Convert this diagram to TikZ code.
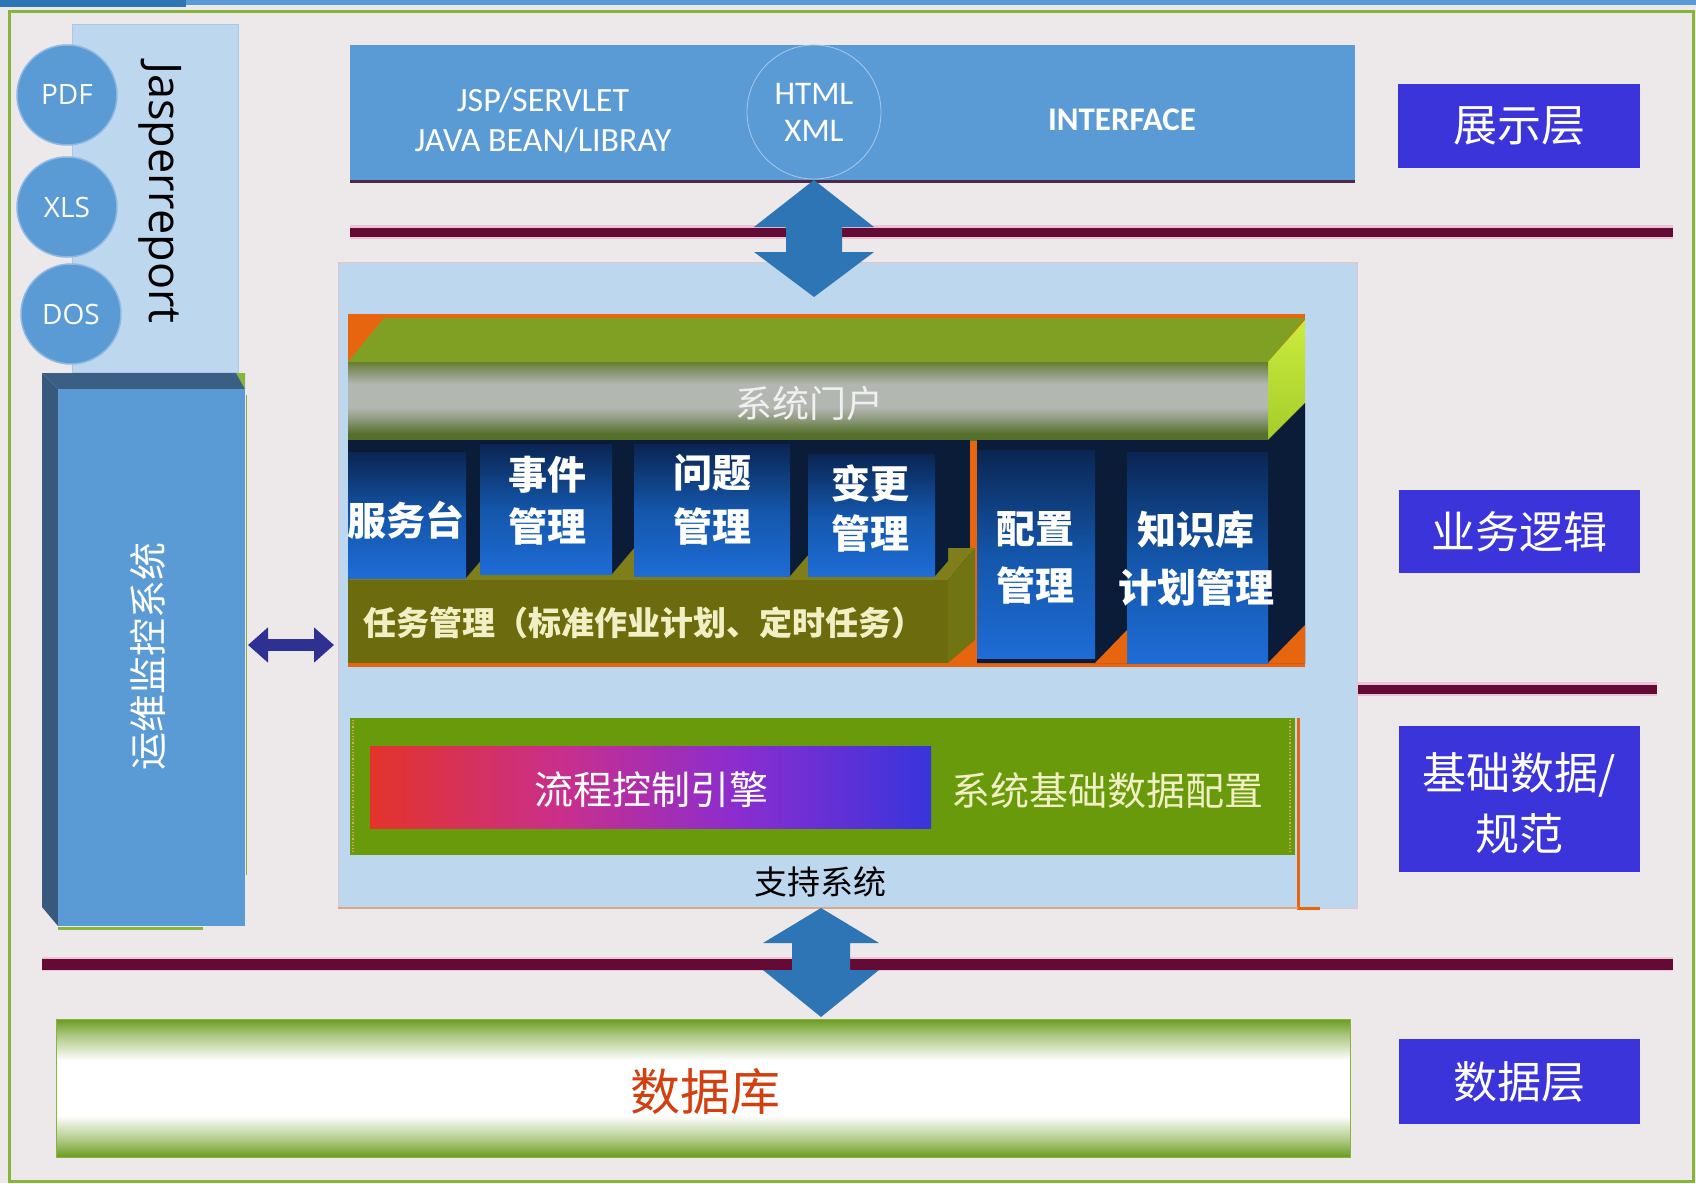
\documentclass[tikz,border=0pt]{standalone}
\usepackage{fontspec}
\setmainfont{Carlito}
\newfontfamily\cjk{Noto Sans CJK SC}
\newfontfamily\osans{Open Sans}
\usetikzlibrary{arrows.meta,calc}
\newcommand{\fsz}[2]{\fontsize{#1pt}{#2pt}\selectfont}
\definecolor{bgc}{HTML}{EDE8E9}
\definecolor{topdark}{HTML}{2E75B6}
\definecolor{toplight}{HTML}{5B9BD5}
\definecolor{framec}{HTML}{86B43C}
\definecolor{pale}{HTML}{BDD7EE}
\definecolor{midblue}{HTML}{5B9BD5}
\definecolor{circline}{HTML}{8DB8E2}
\definecolor{slate}{HTML}{3A5E84}
\definecolor{arrowblue}{HTML}{2E75B6}
\definecolor{arrowdark}{HTML}{2E3192}
\definecolor{maroon}{HTML}{650A35}
\definecolor{glow}{HTML}{E8C4D4}
\definecolor{labelblue}{HTML}{3A34DA}
\definecolor{orng}{HTML}{E8650F}
\definecolor{orngdot}{HTML}{E8A070}
\definecolor{olivetop}{HTML}{7FA022}
\definecolor{lime1}{HTML}{CBEC3E}
\definecolor{lime2}{HTML}{A4CC2A}
\definecolor{navy}{HTML}{0B1C38}
\definecolor{olivetop2}{HTML}{7E7E1A}
\definecolor{oliveside}{HTML}{707412}
\definecolor{olivefront}{HTML}{6C6C0E}
\definecolor{blkTop}{HTML}{0A2552}
\definecolor{blkMid}{HTML}{1456AA}
\definecolor{blkBot}{HTML}{1E6CD6}
\definecolor{grn}{HTML}{689A0C}
\definecolor{cream}{HTML}{F2EFC4}
\definecolor{portaltxt}{HTML}{F0F0F0}
\definecolor{dbg}{HTML}{6A9C1E}
\colorlet{dbl}{dbg!55!white}
\definecolor{dbred}{HTML}{D2400F}
\definecolor{shadowc}{HTML}{4A2A48}
\definecolor{htmlline}{HTML}{A9C8E8}
\definecolor{contline}{HTML}{E3C6C4}
\definecolor{botline}{HTML}{D8A888}
\definecolor{pA}{HTML}{55702A}
\definecolor{pB}{HTML}{8C9878}
\definecolor{pC}{HTML}{B3B7B2}
\definecolor{pD}{HTML}{6A7E30}
\definecolor{fA}{HTML}{E3332A}
\definecolor{fB}{HTML}{C92F8C}
\definecolor{fC}{HTML}{8A2DD0}
\definecolor{fD}{HTML}{3834DC}
\pgfdeclareverticalshading{portalshade}{100bp}{color(0bp)=(pA); color(25bp)=(pA); color(29bp)=(pA); color(38bp)=(pB); color(46bp)=(pC); color(61bp)=(pC); color(68bp)=(pB); color(75bp)=(pD); color(100bp)=(pD)}
\pgfdeclarehorizontalshading{flowshade}{100bp}{color(0bp)=(fA); color(25bp)=(fA); color(42bp)=(fB); color(58bp)=(fC); color(75bp)=(fD); color(100bp)=(fD)}
\pgfdeclareverticalshading{dbshade}{100bp}{color(0bp)=(dbg); color(25bp)=(dbg); color(31bp)=(dbl); color(40bp)=(white); color(60bp)=(white); color(69bp)=(dbl); color(75bp)=(dbg); color(100bp)=(dbg)}
\begin{document}
\begin{tikzpicture}[x=1pt,y=-1pt,
  every node/.style={inner sep=0pt, outer sep=0pt},
  fillbox/.style={rectangle, anchor=north west, inner sep=0pt, outer sep=0pt},
  lbl/.style={fillbox, fill=labelblue, text=white, font={\cjk\fsz{44}{61}}, align=center},
  blk/.style={fillbox, top color=blkTop, bottom color=blkBot, middle color=blkMid},
  blktext/.style={text=white, font={\cjk\bfseries\fsz{39}{52}}, align=center},
  fmt/.style={circle, fill=midblue, draw=circline, line width=1.5pt, minimum size=100pt, text=white, font={\osans\fsz{28}{32}}},
  sep/.style={line width=9pt, color=maroon},
  sepglow/.style={line width=14pt, color=glow},
  fatarrow/.style={fill=arrowblue},
  sidearrow/.style={line width=12pt, color=arrowdark, {Triangle[length=20pt,width=34pt]}-{Triangle[length=20pt,width=34pt]}}
]
\useasboundingbox (0,0) rectangle (1696,1183);
\fill[bgc] (0,0) rectangle (1696,1183);
% top bars and frame
\fill[toplight] (186,0) rectangle (1696,5);
\fill[topdark] (0,0) rectangle (186,7);
\draw[framec, line width=3pt] (9,11) rectangle (1693,1181);

% Jasperreport panel
\node[fillbox, fill=pale, draw=htmlline, line width=0.6pt, minimum width=166pt, minimum height=348pt] (jasper) at (72,24) {};
\node[rotate=-90, font={\osans\fsz{45}{50}}, text=black] (jaspertxt) at (160,193) {Jasperreport};
\node[fmt] (pdf) at (67,95) {PDF};
\node[fmt] (xls) at (67,207) {XLS};
\node[fmt] (dos) at (71,314) {DOS};

% monitoring system 3D box
\fill[slate] (42,373) -- (238,373) -- (245,389) -- (58,389) -- cycle;
\fill[slate!95!black] (42,373) -- (58,389) -- (58,926) -- (42,907) -- cycle;
\fill[framec] (236,373) -- (245,373) -- (245,389) -- cycle;
\node[fillbox, fill=midblue, minimum width=187pt, minimum height=537pt] (yunwei) at (58,389) {};
\draw[framec, line width=3pt] (58,928) -- (203,928);
\draw[framec, line width=1.5pt] (246.5,395) -- (246.5,875);
\node[rotate=90, text=white, font={\cjk\fsz{38}{40}}] (yunweitxt) at (148,656) {运维监控系统};

% presentation box
\node[fillbox, fill=midblue, minimum width=1005pt, minimum height=135pt] (pres) at (350,45) {};
\draw[shadowc, line width=3pt] ($(pres.south west)+(0,1.5)$) -- ($(pres.south east)+(0,1.5)$);
\node[circle, draw=htmlline, line width=0.8pt, minimum size=134pt, text=white, align=center, font={\fsz{33}{37}}] (html) at (814,112) {HTML\\XML};
\node[text=white, align=center, font={\fsz{34}{40}}] (jsp) at (543,120) {JSP/SERVLET\\JAVA BEAN/LIBRAY};
\node[text=white, font={\bfseries\fsz{33}{36}}] (iface) at (1122,120) {INTERFACE};

% separator lines
\draw[sepglow] (350,232) -- (1673,232);
\draw[sep] (350,232) -- (1673,232);
\draw[sepglow] (1357,689) -- (1657,689);
\draw[sep] (1357,689) -- (1657,689);
\draw[sepglow] (42,964) -- (1673,964);
\draw[sep, line width=11pt] (42,964) -- (1673,964);

% business logic container
\node[fillbox, fill=pale, draw=contline, line width=0.8pt, minimum width=1019pt, minimum height=646pt] (biz) at (338,262) {};
\fill[orng] (348,314) rectangle (1305,667);
% portal bar
\fill[olivetop] (384,318) -- (1305,318) -- (1268,362) -- (348,362) -- cycle;
\shade[top color=lime1, bottom color=lime2] (1268,362) -- (1305,320) -- (1305,403) -- (1268,440) -- cycle;
\node[fillbox, shading=portalshade, minimum width=920pt, minimum height=78pt] (portal) at (348,362) {};
\node[text=portaltxt, font={\cjk\fsz{37}{40}}] (portaltxt) at (809,403) {系统门户};
% navy shadows
\fill[navy] (348,440) rectangle (970,580);
\fill[navy] (977,440) -- (1268,440) -- (1305,403) -- (1305,663) -- (977,663) -- cycle;
% task bar top and side
\fill[olivetop2] (348,580) -- (375,548) -- (975,548) -- (948,580) -- cycle;
\fill[oliveside] (948,580) -- (975,548) -- (975,640) -- (948,663) -- cycle;
% block side faces
\fill[navy] (466,452) -- (482,440) -- (482,559) -- (466,578) -- cycle;
\fill[navy] (612,444) -- (634,440) -- (634,548) -- (612,574) -- cycle;
\fill[navy] (790,444) -- (808,440) -- (808,555) -- (790,576) -- cycle;
\fill[navy] (935,454) -- (948,440) -- (948,561) -- (935,576) -- cycle;
% block fronts
\node[blk, minimum width=118pt, minimum height=126pt] (b1) at (348,452) {};
\node[blk, minimum width=132pt, minimum height=130pt] (b2) at (480,444) {};
\node[blk, minimum width=156pt, minimum height=132pt] (b3) at (634,444) {};
\node[blk, minimum width=127pt, minimum height=122pt] (b4) at (808,454) {};
\node[blk, minimum width=118pt, minimum height=208pt] (b5) at (977,450) {};
\node[blk, minimum width=141pt, minimum height=211pt] (b6) at (1127,452) {};
\fill[orng] (1095,663) -- (1127,630) -- (1127,663) -- cycle;
\fill[orng] (1268,663) -- (1305,625) -- (1305,663) -- cycle;
\node[fillbox, fill=olivefront, minimum width=600pt, minimum height=83pt] (task) at (348,580) {};
% block texts
\node[blktext] (t1) at (406,520) {服务台};
\node[blktext] (t2) at (547,501) {事件\\管理};
\node[blktext, font={\cjk\bfseries\fsz{39}{54}}] (t3) at (712,500) {问题\\管理};
\node[blktext, font={\cjk\bfseries\fsz{39}{50}}] (t4) at (870,508) {变更\\管理};
\node[blktext, font={\cjk\bfseries\fsz{39}{57}}] (t5) at (1035,558) {配置\\管理};
\node[blktext, font={\cjk\bfseries\fsz{39}{58}}] (t6) at (1196,559) {知识库\\计划管理};
\node[text=cream, font={\cjk\bfseries\fsz{33}{36}}] (tasktxt) at (644,623) {任务管理（标准作业计划、定时任务）};

% support system
\node[fillbox, fill=grn, minimum width=945pt, minimum height=137pt] (grnblk) at (350,718) {};
\draw[orngdot, dotted, line width=1.2pt] (353,720) -- (353,853);
\draw[orngdot, dotted, line width=1.2pt] (1290,720) -- (1290,853);
\draw[orng, line width=3pt] (1298,718) -- (1298,908) -- (1320,908);
\draw[botline, line width=1.5pt] (338,908) -- (1298,908);
\node[fillbox, shading=flowshade, minimum width=561pt, minimum height=82pt] (flow) at (370,746) {};
\node[text=white, font={\cjk\fsz{39}{42}}] (flowtxt) at (651,790) {流程控制引擎};
\node[text=cream, font={\cjk\fsz{39}{42}}] (cfgtxt) at (1107,791) {系统基础数据配置};
\node[text=black, font={\cjk\fsz{33}{36}}] (supporttxt) at (820,882) {支持系统};

% fat arrows
\coordinate (a1t) at (814,180);
\coordinate (a1b) at (814,297);
\fill[fatarrow] (a1t) -- (754,227) -- (786,227) -- (786,252) -- (754,252) -- (a1b) -- (874,252) -- (842,252) -- (842,227) -- (874,227) -- cycle;
\coordinate (a2t) at (821,908);
\coordinate (a2b) at (821,1017);
\fill[fatarrow] (a2t) -- (763,943) -- (792,943) -- (792,970) -- (763,970) -- (a2b) -- (879,970) -- (850,970) -- (850,943) -- (879,943) -- cycle;
% side arrow
\coordinate (hl) at (248,645);
\coordinate (hr) at (334,645);
\draw[sidearrow] (hl) -- (hr);

% database
\node[fillbox, shading=dbshade, draw=framec, line width=0.8pt, minimum width=1294pt, minimum height=138pt] (db) at (56,1019) {};
\node[text=dbred, font={\cjk\fsz{50}{54}}] (dbtxt) at (705,1092) {数据库};

% layer labels
\node[lbl, minimum width=242pt, minimum height=84pt] (l1) at (1398,84) {};
\node[text=white, font={\cjk\fsz{44}{48}}] (l1t) at (1519,126) {展示层};
\node[lbl, minimum width=241pt, minimum height=83pt] (l2) at (1399,490) {};
\node[text=white, font={\cjk\fsz{44}{48}}] (l2t) at (1519.5,531.5) {业务逻辑};
\node[lbl, minimum width=241pt, minimum height=146pt] (l3) at (1399,726) {};
\node[text=white, align=center, font={\cjk\fsz{44}{61}}] (l3t) at (1519.5,803) {基础数据/\\规范};
\node[lbl, minimum width=241pt, minimum height=85pt] (l4) at (1399,1039) {};
\node[text=white, font={\cjk\fsz{44}{48}}] (l4t) at (1519.5,1082) {数据层};
\end{tikzpicture}
\end{document}
